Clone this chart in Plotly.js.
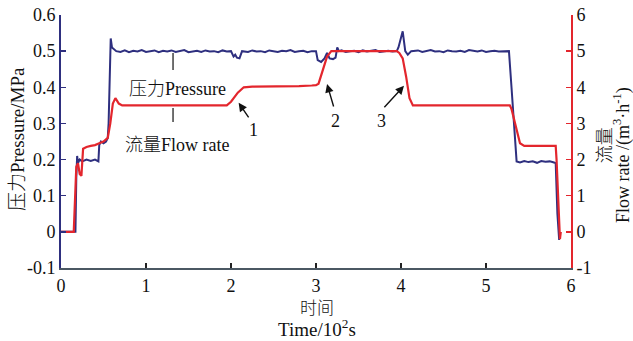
<!DOCTYPE html>
<html>
<head>
<meta charset="utf-8">
<script src="https://cdn.plot.ly/plotly-3.0.1.min.js"></script>
<style>html,body{margin:0;padding:0;background:#fff;}#chart{width:633px;height:341px;}</style>
</head>
<body>
<div id="chart"></div>
<script>
// Time in units of 10^2 s
var pressureTime = [0,0.17,0.18,0.19,0.2,0.22,0.25,0.3,0.35,0.4,0.44,0.45,0.47,0.5,0.53,0.55,0.56,0.575,0.585,0.6,0.62,0.65,0.7,0.75,0.8,0.85,0.9,0.95,1.0,1.05,1.1,1.15,1.2,1.25,1.3,1.35,1.4,1.45,1.5,1.55,1.6,1.65,1.7,1.75,1.8,1.85,1.9,1.95,2.0,2.03,2.05,2.07,2.1,2.13,2.2,2.25,2.3,2.35,2.4,2.45,2.5,2.55,2.6,2.65,2.7,2.75,2.8,2.85,2.9,2.95,3.0,3.02,3.06,3.1,3.13,3.16,3.2,3.23,3.25,3.27,3.3,3.35,3.4,3.45,3.5,3.55,3.6,3.65,3.7,3.75,3.8,3.85,3.9,3.95,3.97,4.0,4.02,4.05,4.08,4.12,4.2,4.25,4.3,4.35,4.4,4.45,4.5,4.55,4.6,4.65,4.7,4.75,4.8,4.85,4.9,4.95,5.0,5.05,5.1,5.15,5.2,5.27,5.3,5.33,5.36,5.4,5.45,5.5,5.55,5.6,5.65,5.7,5.75,5.8,5.82,5.84,5.86,5.87];
var pressure = [0,0,0.15,0.21,0.19,0.2,0.195,0.2,0.196,0.2,0.195,0.24,0.25,0.245,0.25,0.26,0.3,0.5,0.535,0.51,0.505,0.5,0.498,0.502,0.497,0.501,0.499,0.503,0.498,0.5,0.502,0.497,0.501,0.499,0.502,0.498,0.5,0.503,0.497,0.5,0.501,0.498,0.502,0.499,0.5,0.497,0.502,0.499,0.5,0.485,0.49,0.482,0.48,0.5,0.498,0.502,0.499,0.5,0.497,0.502,0.5,0.498,0.501,0.5,0.503,0.498,0.5,0.501,0.497,0.5,0.5,0.475,0.47,0.48,0.495,0.48,0.478,0.482,0.51,0.5,0.502,0.498,0.5,0.501,0.497,0.502,0.499,0.5,0.503,0.498,0.5,0.501,0.499,0.5,0.51,0.54,0.555,0.5,0.49,0.5,0.502,0.498,0.5,0.503,0.499,0.5,0.497,0.502,0.5,0.499,0.501,0.498,0.503,0.5,0.499,0.502,0.498,0.5,0.501,0.499,0.5,0.5,0.4,0.3,0.195,0.192,0.196,0.193,0.195,0.191,0.196,0.194,0.195,0.192,0.19,0.05,-0.02,-0.02];

var flowTime = [0,0.15,0.18,0.2,0.22,0.24,0.26,0.3,0.35,0.4,0.45,0.5,0.55,0.58,0.61,0.64,0.68,0.72,0.8,0.9,1.0,1.1,1.2,1.3,1.4,1.5,1.6,1.7,1.8,1.9,1.95,2.0,2.08,2.15,2.25,2.4,2.6,2.8,2.95,3.0,3.03,3.08,3.13,3.18,3.3,3.5,3.7,3.9,3.95,3.98,4.02,4.06,4.1,4.14,4.3,4.5,4.7,4.9,5.1,5.28,5.3,5.35,5.4,5.45,5.55,5.65,5.75,5.82,5.83,5.86,5.87,5.88];
var flow = [0,0,1.8,1.9,1.6,1.55,2.3,2.35,2.38,2.4,2.45,2.5,2.6,3.0,3.55,3.7,3.55,3.5,3.5,3.51,3.5,3.5,3.51,3.5,3.5,3.51,3.5,3.5,3.51,3.5,3.5,3.6,3.85,4.0,4.02,4.02,4.03,4.03,4.05,4.06,4.1,4.5,4.85,5.0,5.0,5.0,5.01,5.0,5.0,4.95,4.8,4.3,3.7,3.5,3.5,3.51,3.5,3.5,3.51,3.5,3.4,2.9,2.45,2.38,2.38,2.39,2.38,2.38,2.0,0,-0.2,0];

var xTicks = [0,1,2,3,4,5,6];
var pTicks = [-0.1,0,0.1,0.2,0.3,0.4,0.5,0.6];
var fTicks = [-1,0,1,2,3,4,5,6];
var pTickText = ['-0.1','0','0.1','0.2','0.3','0.4','0.5','0.6'];

var serif = '"Liberation Serif", "Noto Sans CJK SC", serif';
var blue = '#2e2f7f';
var red = '#e3262d';
function cjk(s) { return '<span style="font-family:Noto Sans CJK SC;font-weight:300">' + s + '</span>'; }
function f(size) { return {family: serif, size: size, color: '#111'}; }
var tf = f(18);

var traces = [
  {x: pressureTime, y: pressure, type: 'scatter', mode: 'lines', line: {color: blue, width: 2}, yaxis: 'y', name: 'Pressure'},
  {x: flowTime, y: flow, type: 'scatter', mode: 'lines', line: {color: red, width: 2.2}, yaxis: 'y2', name: 'Flow'}
];

var arrowCommon = {xref: 'x', yref: 'y', text: '', showarrow: true, arrowhead: 2, arrowsize: 1.2, arrowwidth: 1.4, arrowcolor: '#111', standoff: 0, axref: 'pixel', ayref: 'pixel'};
var pa = {xref: 'paper', yref: 'paper', xanchor: 'center', yanchor: 'middle', showarrow: false};
var annotations = [
  Object.assign({}, arrowCommon, {x: 2.09, y: 0.357, ax: 11, ay: 16}),
  Object.assign({}, arrowCommon, {x: 3.13, y: 0.409, ax: 7, ay: 24}),
  Object.assign({}, arrowCommon, {x: 4.035, y: 0.404, ax: -21, ay: 23}),
  {xref: 'x', yref: 'y', x: 2.27, y: 0.282, text: '1', showarrow: false, font: tf},
  {xref: 'x', yref: 'y', x: 3.235, y: 0.307, text: '2', showarrow: false, font: tf},
  {xref: 'x', yref: 'y', x: 3.765, y: 0.307, text: '3', showarrow: false, font: tf},
  {xref: 'x', yref: 'y', x: 1.37, y: 0.401, text: cjk('压力') + 'Pressure', showarrow: false, font: tf},
  {xref: 'x', yref: 'y', x: 1.37, y: 0.246, text: cjk('流量') + 'Flow rate', showarrow: false, font: tf},
  Object.assign({}, pa, {x: -0.088, y: 0.51, text: cjk('压力') + 'Pressure/MPa', textangle: -90, font: f(19)}),
  Object.assign({}, pa, {x: 1.063, y: 0.486, text: cjk('流量'), textangle: -90, font: f(18)}),
  Object.assign({}, pa, {x: 1.1, y: 0.447, text: 'Flow rate /(m<sup>3</sup>·h<sup>-1</sup>)', textangle: -90, font: f(18)}),
  Object.assign({}, pa, {x: 0.502, y: -0.153, text: cjk('时间'), font: f(17)}),
  Object.assign({}, pa, {x: 0.502, y: -0.236, text: 'Time/10<sup>2</sup>s', font: f(19)})
];

var shapes = [
  {type: 'line', xref: 'x', yref: 'y', x0: 1.318, x1: 1.318, y0: 0.495, y1: 0.448, line: {color: '#111', width: 1.2}},
  {type: 'line', xref: 'x', yref: 'y', x0: 1.318, x1: 1.318, y0: 0.343, y1: 0.304, line: {color: '#111', width: 1.2}}
];

var layout = {
  width: 633, height: 341,
  margin: {l: 61, r: 62, t: 15, b: 73},
  paper_bgcolor: '#fff', plot_bgcolor: '#fff',
  showlegend: false,
  font: tf,
  xaxis: {range: [0, 6], tickvals: xTicks, ticktext: xTicks.map(String), ticks: 'inside', ticklen: 5, tickwidth: 1.5, tickcolor: '#222',
          showline: true, linecolor: '#4b5863', linewidth: 2, showgrid: false, zeroline: false, tickfont: tf},
  yaxis: {range: [-0.1, 0.6], tickvals: pTicks, ticktext: pTickText, ticks: 'inside', ticklen: 5, tickwidth: 1.5, tickcolor: blue,
          showline: true, linecolor: blue, linewidth: 2, showgrid: false, zeroline: false, tickfont: tf},
  yaxis2: {range: [-1, 6], tickvals: fTicks, ticktext: fTicks.map(String), overlaying: 'y', side: 'right', ticks: 'inside', ticklen: 5, tickwidth: 1.5, tickcolor: red,
           showline: true, linecolor: red, linewidth: 2, showgrid: false, zeroline: false, tickfont: tf},
  annotations: annotations,
  shapes: shapes
};

Plotly.newPlot('chart', traces, layout, {displayModeBar: false, staticPlot: true});
</script>
</body>
</html>
